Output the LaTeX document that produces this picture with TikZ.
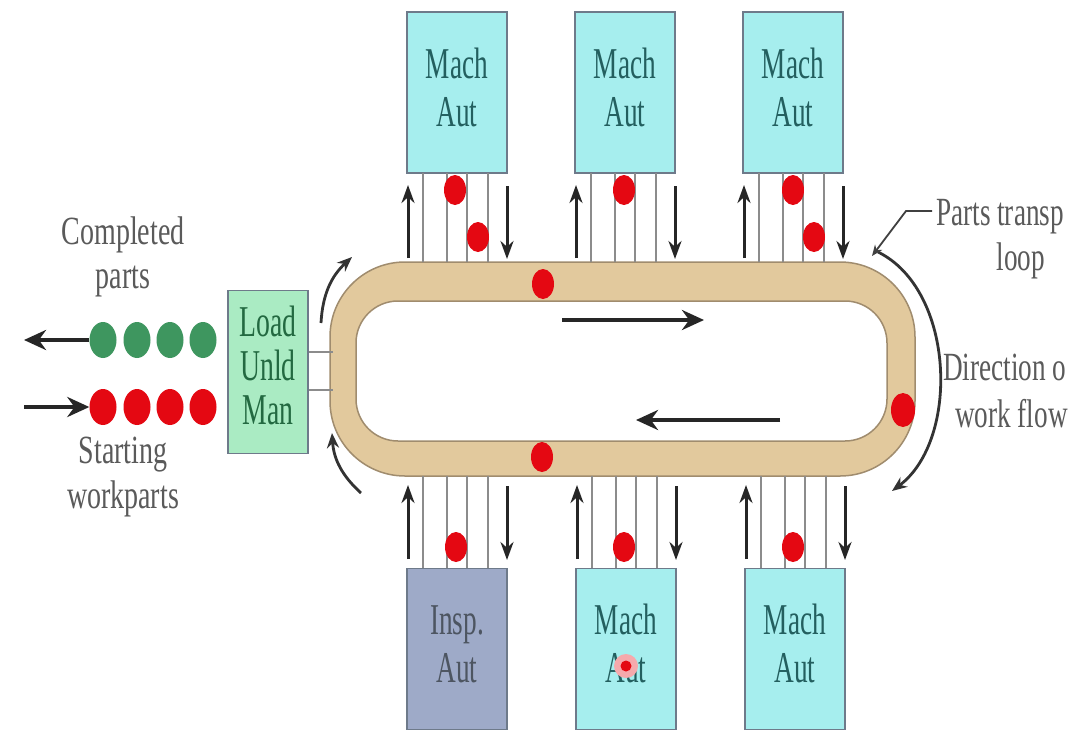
\documentclass[tikz,border=0pt]{standalone}
\usepackage{fontspec}
\setmainfont{Liberation Serif}
\usetikzlibrary{arrows.meta,shapes.geometric}
\definecolor{band}{RGB}{226,201,157}
\definecolor{bandedge}{RGB}{160,140,110}
\definecolor{machfill}{RGB}{166,238,238}
\definecolor{inspfill}{RGB}{158,170,200}
\definecolor{boxedge}{RGB}{110,122,138}
\definecolor{machtext}{RGB}{35,95,95}
\definecolor{loadfill}{RGB}{170,235,195}
\definecolor{loadtext}{RGB}{35,105,65}
\definecolor{labeltext}{RGB}{90,90,90}
\definecolor{partred}{RGB}{228,8,18}
\definecolor{partgreen}{RGB}{62,150,95}
\definecolor{railgrey}{RGB}{140,140,140}
\newcommand\cond[2]{\scalebox{#1}[1]{\begin{tabular}[b]{@{}c@{}}#2\end{tabular}}}
\begin{document}
\begin{tikzpicture}[x=1pt,y=-1pt,
  machbox/.style={draw=boxedge,line width=1.4pt,fill=machfill,minimum width=100pt,minimum height=161pt,inner sep=0pt,text=machtext,font=\fontsize{44}{48}\selectfont},
  inspbox/.style={machbox,fill=inspfill,text=boxedge!70!black},
  loadbox/.style={draw=boxedge,line width=1.4pt,fill=loadfill,minimum width=80pt,minimum height=163pt,inner sep=0pt,text=loadtext,font=\fontsize{44}{44}\selectfont},
  lbl/.style={text=labeltext,inner sep=0pt,anchor=base,font=\fontsize{40}{44}\selectfont},
  rlbl/.style={text=labeltext,inner sep=0pt,font=\fontsize{40}{44}\selectfont},
  part/.style={ellipse,fill=partred,minimum width=22pt,minimum height=30pt,inner sep=0pt},
  gpart/.style={ellipse,fill=partgreen,minimum width=27pt,minimum height=36pt,inner sep=0pt},
  rpart/.style={ellipse,fill=partred,minimum width=27pt,minimum height=36pt,inner sep=0pt},
  rail/.style={draw=railgrey,line width=1.6pt},
  vflow/.style={draw=black!85,line width=3pt,-{Stealth[length=18pt,width=13pt]}},
  flow/.style={draw=black!85,line width=4pt,-{Stealth[length=22pt,width=20pt]}},
  cflow/.style={draw=black!80,line width=2.8pt,-{Stealth[length=15pt,width=12pt]}},
]
\clip (0,0) rectangle (1068,731);
\fill[white] (0,0) rectangle (1068,731);

% transport loop
\path[fill=band,draw=bandedge,line width=1.5pt,rounded corners=75pt] (330,262) -- (915,262) -- (915,476) -- (330,476) -- cycle;
\path[fill=white,draw=bandedge,line width=1.5pt,rounded corners=42pt] (356,301) -- (887,301) -- (887,441) -- (356,441) -- cycle;
\coordinate (looptr) at (872,256);

% top stations
\foreach \L/\n in {407/1,575/2,743/3}{
  \node[machbox] (top\n) at (\L+50,92.5) {\cond{0.62}{Mach\\Aut}};
  \foreach \dx in {16,40,60,81}{
    \draw[rail] (\L+\dx,173) -- (\L+\dx,262);
  }
  \coordinate (tua\n) at (\L+1,258);
  \coordinate (tub\n) at (\L+1,185);
  \coordinate (tda\n) at (\L+100,186);
  \coordinate (tdb\n) at (\L+100,259);
  \draw[vflow] (tua\n) -- (tub\n);
  \draw[vflow] (tda\n) -- (tdb\n);
}
% bottom stations
\node[inspbox] (bot1) at (457,649) {\cond{0.62}{Insp.\\Aut}};
\node[machbox] (bot2) at (626,649) {\cond{0.62}{Mach\\Aut}};
\node[machbox] (bot3) at (795,649) {\cond{0.62}{Mach\\Aut}};
\foreach \L/\n in {407/1,576/2,745/3}{
  \foreach \dx in {16,40,60,81}{
    \draw[rail] (\L+\dx,476) -- (\L+\dx,568);
  }
  \coordinate (bua\n) at (\L+1,559);
  \coordinate (bub\n) at (\L+1,485);
  \coordinate (bda\n) at (\L+100,486);
  \coordinate (bdb\n) at (\L+100,560);
  \draw[vflow] (bua\n) -- (bub\n);
  \draw[vflow] (bda\n) -- (bdb\n);
}

% parts on the stations and loop
\node[part] (pt1a) at (455,190) {};
\node[part] (pt1b) at (478,237) {};
\node[part] (pt2a) at (624,190) {};
\node[part] (pt3a) at (793,190) {};
\node[part] (pt3b) at (814,237) {};
\node[part] (pb1) at (456,547) {};
\node[part] (pb2) at (624,547) {};
\node[part] (pb3) at (793,547) {};
\node[part] (pl1) at (543,284) {};
\node[part] (pl2) at (542,457) {};
\node[part,minimum width=24pt,minimum height=34pt] (pl3) at (903,410) {};
\node[circle,fill=partred!35,minimum size=24pt,inner sep=0pt] (glow) at (626,666) {};
\node[circle,fill=partred,minimum size=11pt,inner sep=0pt] (dot) at (626,666) {};

% flow arrows inside the loop
\coordinate (fa1) at (562,320); \coordinate (fa2) at (704,320);
\coordinate (fb1) at (780,420); \coordinate (fb2) at (636,420);
\draw[flow] (fa1) -- (fa2);
\draw[flow] (fb1) -- (fb2);

% load / unload station
\node[loadbox] (load) at (268,372) {\cond{0.63}{Load\\Unld\\Man}};
\draw[rail] (load.east |- 0,352) -- (333,352);
\draw[rail] (load.east |- 0,390) -- (333,390);

% curved direction arrows
\coordinate (cl1) at (321,323); \coordinate (cl2) at (352,257);
\coordinate (cb1) at (361,493); \coordinate (cb2) at (332,433);
\coordinate (cr1) at (878,252); \coordinate (cr2) at (892,491);
\draw[cflow] (cl1) to[bend left=22] (cl2);
\draw[cflow] (cb1) to[bend left=22] (cb2);
\draw[cflow] (cr1) .. controls (955,290) and (960,440) .. (cr2);

% completed and starting parts
\foreach \x/\n in {103/1,137/2,170/3,203/4}{
  \node[gpart] (g\n) at (\x,340) {};
  \node[rpart] (r\n) at (\x,407) {};
}
\coordinate (outend) at (24,340);
\coordinate (instart) at (24,407);
\draw[flow] (g1) -- (outend);
\draw[flow] (instart) -- (r1);

% labels
\node[lbl] (lcomp) at (123,288) {\cond{0.7}{Completed\\parts}};
\node[lbl,font=\fontsize{40}{45}\selectfont] (lstart) at (123,508) {\cond{0.7}{Starting\\workparts}};
\node[rlbl,anchor=base west] (lloopa) at (936,225) {\scalebox{0.68}[1]{Parts transp}};
\node[rlbl,anchor=base] (lloopb) at (1021,270) {\scalebox{0.68}[1]{loop}};
\node[rlbl,anchor=base west] (ldira) at (943,380) {\scalebox{0.68}[1]{Direction o}};
\node[rlbl,anchor=base west] (ldirb) at (955,427) {\scalebox{0.68}[1]{work flow}};
\coordinate (lead1) at (932,211);
\coordinate (lead2) at (906,211);
\draw[draw=black!75,line width=1.8pt,-{Stealth[length=11pt,width=9pt]}] (lead1) -- (lead2) -- (looptr);
\end{tikzpicture}
\end{document}
